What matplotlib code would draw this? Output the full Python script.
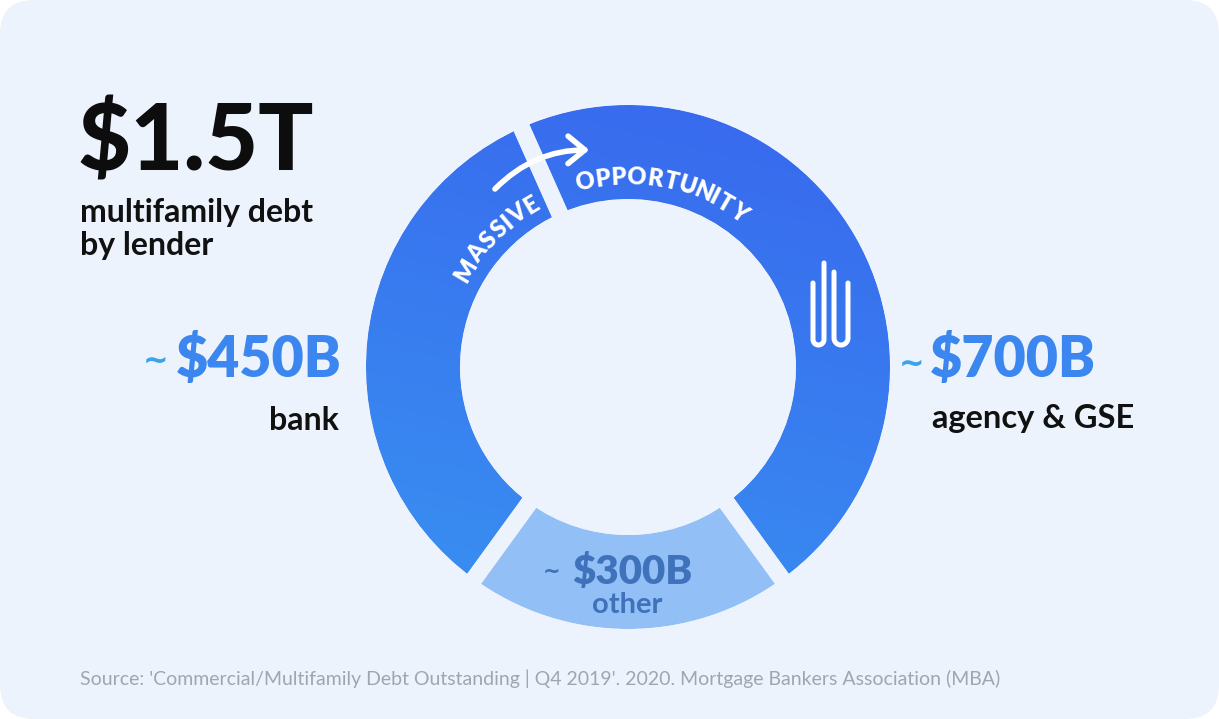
import numpy as np
import matplotlib.pyplot as plt
from matplotlib.patches import FancyBboxPatch, FancyArrowPatch, ArrowStyle
from matplotlib.textpath import TextPath
from matplotlib.font_manager import FontProperties
from matplotlib.colors import to_rgb

plt.rcParams['font.family'] = ['Lato', 'DejaVu Sans']

# data: multifamily debt by lender ($B)
segments = ['agency & GSE', 'other', 'bank']
amounts = [700, 300, 450]
total = 1500  # $1.5T headline
# ring is drawn against the $1.5T total, bank taking the remainder
drawn = amounts[:2] + [total - sum(amounts[:2])]
value_labels = ['$700B', '$300B', '$450B']
headline = '$1.5T'
source = ("Source: 'Commercial/Multifamily Debt Outstanding | Q4 2019'. 2020. "
          "Mortgage Bankers Association (MBA)")

W, H = 1219, 719
card = '#ecf3fc'
blue_top = '#3867ee'
blue_bot = '#3892f1'
light = '#93bff7'
label_blue = '#3b86ef'
tilde_blue = '#3aa4ef'
other_txt = '#3f72ba'


def Y(y):
    return H - y


fig = plt.figure(figsize=(W / 100, H / 100), dpi=100, facecolor='white')
ax = fig.add_axes([0, 0, 1, 1])
ax.add_patch(FancyBboxPatch((0, 0), W, H, boxstyle='round,pad=0,rounding_size=34',
                            fc=card, ec='none', zorder=0))

cx, cy = 628, Y(367)
r_out, ring, gap = 262, 94, 17

wedges, _ = ax.pie(drawn, startangle=114, counterclock=False, radius=r_out,
                   center=(cx, cy), colors=[blue_top, light, blue_top],
                   wedgeprops=dict(width=ring, linewidth=0), frame=True)

# gradient on the two dark-blue slices (darker towards top right)
n = 300
yy, xx = np.mgrid[0:1:n * 1j, 0:1:n * 1j]
t = np.clip(0.8 * yy + 0.2 * xx, 0, 1)[..., None]
grad = (1 - t) * np.array(to_rgb(blue_bot)) + t * np.array(to_rgb(blue_top))
for i in (0, 2):
    im = ax.imshow(grad, extent=(cx - r_out, cx + r_out, cy - r_out, cy + r_out),
                   origin='lower', zorder=2, interpolation='bilinear')
    im.set_clip_path(wedges[i])

# gaps between slices
gaps, _ = ax.pie(drawn, startangle=114, counterclock=False, radius=r_out + gap / 2,
                 center=(cx, cy), colors=['none'] * 3, frame=True,
                 wedgeprops=dict(width=ring + gap, linewidth=gap * 0.72,
                                 edgecolor=card, facecolor='none'))
for g in gaps:
    g.set_zorder(3)

ax.set_xlim(0, W)
ax.set_ylim(0, H)
ax.set_aspect('auto')
ax.axis('off')

# headline
ax.text(78, Y(171), headline, fontsize=66, fontweight='black', color='#0d0d0d',
        va='baseline', ha='left')
ax.text(80, Y(222), 'multifamily debt', fontsize=23, fontweight='bold',
        color='#111111', va='baseline')
ax.text(80, Y(255), 'by lender', fontsize=23, fontweight='bold',
        color='#111111', va='baseline')

tilde_font = dict(family='DejaVu Sans', fontweight='bold')

# bank (left)
ax.text(342, Y(377), value_labels[2], fontsize=40, fontweight='heavy', color=label_blue,
        ha='right', va='baseline')
ax.text(156, Y(361), '~', fontsize=22, color=tilde_blue, ha='center', va='center',
        **tilde_font)
ax.text(339, Y(430), segments[2], fontsize=23, fontweight='bold', color='#111111',
        ha='right', va='baseline')

# agency (right)
ax.text(930, Y(377), value_labels[0], fontsize=40, fontweight='heavy', color=label_blue,
        ha='left', va='baseline')
ax.text(912, Y(364), '~', fontsize=22, color=tilde_blue, ha='center', va='center',
        **tilde_font)
ax.text(932, Y(428), segments[0], fontsize=23.5, fontweight='bold', color='#111111',
        ha='left', va='baseline')

# other (bottom, inside slice)
ax.text(572, Y(584), value_labels[1], fontsize=29, fontweight='heavy', color=other_txt,
        ha='left', va='baseline', zorder=5)
ax.text(552, Y(572), '~', fontsize=15, color=other_txt, ha='center', va='center',
        zorder=5, **tilde_font)
ax.text(627, Y(613), segments[1], fontsize=21, fontweight='bold', color=other_txt,
        ha='center', va='baseline', zorder=5)

# curved words along the ring
fsz = 17
fp = FontProperties(family='Lato', weight='heavy', size=fsz)


def arc_text(word, theta_start, radius, spacing=2.5):
    widths = []
    for ch in word:
        tp = TextPath((0, 0), ch, prop=fp, size=fsz * 100 / 72)
        widths.append(max(tp.get_extents().width, 4) + spacing)
    pos = 0.0
    for ch, w in zip(word, widths):
        theta = theta_start - np.degrees((pos + w / 2) / radius)
        rad = np.radians(theta)
        ax.text(cx + radius * np.cos(rad), cy + radius * np.sin(rad), ch,
                fontproperties=fp, color='white', rotation=theta - 90,
                rotation_mode='anchor', ha='center', va='center', zorder=6)
        pos += w


arc_text('MASSIVE', 152.5, 188)
arc_text('OPPORTUNITY', 106, 190)

# arrow crossing the top gap
ax.add_patch(FancyArrowPatch((493, Y(191)), (592, Y(150)),
                             connectionstyle='arc3,rad=-0.22',
                             arrowstyle=ArrowStyle('->', head_length=0.55, head_width=0.45),
                             mutation_scale=22, lw=4, color='white',
                             capstyle='round', joinstyle='round', zorder=7))


# building logo
def u_shape(xl, xr, ytop_l, ytop_r, ybot):
    rr = (xr - xl) / 2
    xc = (xl + xr) / 2
    a = np.linspace(np.pi, 2 * np.pi, 20)
    xs = np.concatenate([[xl], xc + rr * np.cos(a), [xr]])
    ys = np.concatenate([[Y(ytop_l)], Y(ybot - rr) + rr * np.sin(a), [Y(ytop_r)]])
    ax.plot(xs, ys, color='white', lw=3.6, solid_capstyle='round', zorder=6)


u_shape(813, 824, 283, 263, 345)
u_shape(834, 848, 272, 283, 345)

ax.text(80, Y(679), source, fontsize=14.0, color='#9ea6b2', ha='left', va='center')

fig.savefig('out.png', dpi=100, facecolor='white')
